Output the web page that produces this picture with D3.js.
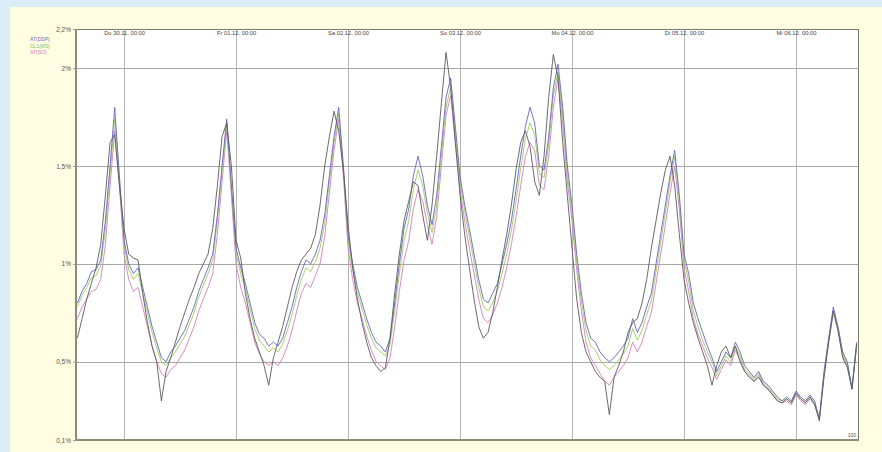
<!DOCTYPE html>
<html>
<head>
<meta charset="utf-8">
<script src="https://cdn.jsdelivr.net/npm/d3@7"></script>
<style>
  html, body { margin: 0; padding: 0; background: #dcedfa; }
  svg { display: block; font-family: "Liberation Sans", Arial, sans-serif; }
</style>
</head>
<body>
<svg id="chart"></svg>
<script>
// hourly values in %, first point = 29.11. 14:00
const firstHour = new Date(2006, 10, 29, 14);

const blueValues = [
  0.80, 0.86, 0.90, 0.96, 0.97, 1.02, 1.22, 1.50, 1.80, 1.45, 1.12, 1.00,
  0.95, 0.98, 0.88, 0.78, 0.68, 0.60, 0.52, 0.50, 0.55, 0.58, 0.62, 0.66,
  0.72, 0.78, 0.86, 0.92, 0.98, 1.05, 1.25, 1.50, 1.74, 1.40, 1.08, 0.98,
  0.90, 0.80, 0.70, 0.64, 0.62, 0.58, 0.60, 0.58, 0.62, 0.70, 0.78, 0.88,
  0.96, 1.02, 1.00, 1.05, 1.12, 1.25, 1.45, 1.65, 1.80, 1.50, 1.15, 1.00,
  0.88, 0.80, 0.72, 0.65, 0.60, 0.58, 0.55, 0.62, 0.80, 1.00, 1.18, 1.28,
  1.45, 1.55, 1.45, 1.30, 1.20, 1.35, 1.60, 1.85, 1.95, 1.70, 1.45, 1.30,
  1.18, 1.05, 0.92, 0.82, 0.80, 0.85, 0.90, 1.00, 1.10, 1.22, 1.38, 1.55,
  1.70, 1.80, 1.72, 1.50, 1.48, 1.65, 1.90, 2.02, 1.80, 1.50, 1.30, 1.05,
  0.85, 0.70, 0.62, 0.60, 0.55, 0.52, 0.50, 0.52, 0.55, 0.58, 0.62, 0.72,
  0.65, 0.70, 0.78, 0.85, 1.00, 1.15, 1.30, 1.45, 1.58, 1.35, 1.05, 0.95,
  0.80, 0.72, 0.65, 0.58, 0.52, 0.45, 0.50, 0.55, 0.52, 0.60, 0.55, 0.48,
  0.45, 0.42, 0.45, 0.40, 0.38, 0.35, 0.32, 0.30, 0.32, 0.30, 0.35, 0.32,
  0.30, 0.33, 0.30, 0.20, 0.45, 0.62, 0.78, 0.68, 0.55, 0.50, 0.36, 0.60
];

const greenValues = [
  0.78, 0.84, 0.88, 0.93, 0.94, 0.99, 1.18, 1.46, 1.74, 1.43, 1.10, 0.97,
  0.92, 0.95, 0.85, 0.75, 0.65, 0.57, 0.50, 0.48, 0.52, 0.55, 0.59, 0.63,
  0.69, 0.75, 0.83, 0.89, 0.95, 1.02, 1.22, 1.47, 1.72, 1.38, 1.05, 0.95,
  0.87, 0.77, 0.67, 0.61, 0.58, 0.55, 0.57, 0.55, 0.59, 0.66, 0.74, 0.84,
  0.92, 0.98, 0.96, 1.01, 1.08, 1.21, 1.42, 1.62, 1.77, 1.48, 1.12, 0.97,
  0.85, 0.77, 0.69, 0.62, 0.57, 0.55, 0.53, 0.59, 0.76, 0.95, 1.12, 1.22,
  1.38, 1.48, 1.40, 1.26, 1.16, 1.30, 1.55, 1.80, 1.90, 1.66, 1.42, 1.27,
  1.14, 1.01, 0.88, 0.78, 0.76, 0.80, 0.86, 0.95, 1.05, 1.17, 1.32, 1.49,
  1.64, 1.72, 1.66, 1.46, 1.44, 1.61, 1.86, 1.98, 1.76, 1.46, 1.26, 1.01,
  0.81, 0.66, 0.58, 0.56, 0.51, 0.48, 0.46, 0.48, 0.51, 0.54, 0.58, 0.67,
  0.61, 0.66, 0.74, 0.81, 0.96, 1.11, 1.26, 1.42, 1.55, 1.32, 1.02, 0.91,
  0.76, 0.68, 0.61, 0.55, 0.50, 0.43, 0.48, 0.53, 0.50, 0.58, 0.53, 0.46,
  0.44, 0.41, 0.44, 0.39, 0.37, 0.34, 0.31, 0.30, 0.31, 0.29, 0.34, 0.31,
  0.29, 0.32, 0.29, 0.22, 0.44, 0.61, 0.76, 0.67, 0.54, 0.49, 0.37, 0.59
];

const pinkValues = [
  0.72, 0.78, 0.82, 0.86, 0.87, 0.92, 1.10, 1.40, 1.68, 1.40, 1.05, 0.92,
  0.86, 0.88, 0.78, 0.68, 0.58, 0.50, 0.44, 0.42, 0.46, 0.48, 0.52, 0.56,
  0.62, 0.68, 0.76, 0.82, 0.88, 0.95, 1.15, 1.42, 1.68, 1.35, 1.00, 0.88,
  0.80, 0.70, 0.60, 0.54, 0.50, 0.48, 0.50, 0.48, 0.52, 0.58, 0.66, 0.76,
  0.85, 0.90, 0.88, 0.94, 1.00, 1.14, 1.36, 1.58, 1.74, 1.45, 1.08, 0.92,
  0.80, 0.72, 0.63, 0.56, 0.50, 0.48, 0.46, 0.52, 0.68, 0.86, 1.02, 1.12,
  1.28, 1.38, 1.32, 1.20, 1.10, 1.24, 1.50, 1.76, 1.86, 1.62, 1.38, 1.22,
  1.08, 0.95, 0.82, 0.72, 0.70, 0.74, 0.80, 0.88, 0.98, 1.10, 1.24, 1.40,
  1.55, 1.62, 1.58, 1.40, 1.38, 1.55, 1.80, 1.95, 1.72, 1.42, 1.22, 0.97,
  0.76, 0.60, 0.52, 0.48, 0.44, 0.40, 0.38, 0.42, 0.45, 0.48, 0.52, 0.60,
  0.55, 0.60, 0.68, 0.75, 0.90, 1.05, 1.20, 1.36, 1.50, 1.28, 0.98, 0.86,
  0.72, 0.64, 0.58, 0.52, 0.47, 0.41, 0.46, 0.51, 0.48, 0.56, 0.51, 0.45,
  0.43, 0.40, 0.43, 0.38, 0.36, 0.33, 0.30, 0.29, 0.30, 0.28, 0.33, 0.30,
  0.28, 0.31, 0.28, 0.21, 0.43, 0.60, 0.75, 0.66, 0.53, 0.48, 0.36, 0.58
];

const grayValues = [
  0.62, 0.72, 0.82, 0.90, 0.98, 1.10, 1.35, 1.62, 1.66, 1.40, 1.18, 1.05,
  1.03, 1.02, 0.85, 0.70, 0.58, 0.50, 0.30, 0.45, 0.52, 0.60, 0.68, 0.75,
  0.82, 0.88, 0.95, 1.00, 1.05, 1.18, 1.40, 1.65, 1.72, 1.50, 1.12, 1.03,
  0.85, 0.72, 0.62, 0.55, 0.48, 0.38, 0.52, 0.60, 0.68, 0.78, 0.88, 0.96,
  1.02, 1.05, 1.08, 1.15, 1.30, 1.50, 1.65, 1.78, 1.68, 1.48, 1.20, 0.98,
  0.82, 0.70, 0.60, 0.52, 0.48, 0.45, 0.47, 0.62, 0.85, 1.05, 1.22, 1.32,
  1.42, 1.40, 1.25, 1.12, 1.30, 1.55, 1.82, 2.08, 1.90, 1.62, 1.35, 1.15,
  0.98, 0.82, 0.68, 0.62, 0.65, 0.75, 0.88, 1.02, 1.15, 1.30, 1.48, 1.62,
  1.68, 1.60, 1.42, 1.35, 1.55, 1.85, 2.07, 1.95, 1.62, 1.35, 1.08, 0.82,
  0.65, 0.55, 0.50, 0.45, 0.42, 0.40, 0.23, 0.42, 0.48, 0.55, 0.65, 0.70,
  0.72, 0.80, 0.92, 1.08, 1.22, 1.36, 1.48, 1.55, 1.40, 1.15, 0.92, 0.80,
  0.70, 0.62, 0.55, 0.48, 0.38, 0.48, 0.55, 0.58, 0.52, 0.58, 0.50, 0.45,
  0.42, 0.40, 0.42, 0.38, 0.36, 0.33, 0.30, 0.29, 0.31, 0.29, 0.34, 0.31,
  0.29, 0.32, 0.28, 0.20, 0.42, 0.60, 0.76, 0.66, 0.52, 0.47, 0.36, 0.59
];

const yTicks = [0.1, 0.5, 1, 1.5, 2, 2.2];
const yTickLabels = ["0,1%", "0,5%", "1%", "1,5%", "2%", "2,2%"];
const yGrid = [0.5, 1, 1.5, 2];

const dayTicks = [
  new Date(2006, 10, 30), new Date(2006, 11, 1), new Date(2006, 11, 2),
  new Date(2006, 11, 3), new Date(2006, 11, 4), new Date(2006, 11, 5),
  new Date(2006, 11, 6)
];
const dayLabels = [
  "Do 30.11. 00:00", "Fr 01.12. 00:00", "Sa 02.12. 00:00", "So 03.12. 00:00",
  "Mo 04.12. 00:00", "Di 05.12. 00:00", "Mi 06.12. 00:00"
];

const legendNames = ["AT(DSP)", "CL1(MS)", "AT(SO)"];

const width = 882, height = 452;
const plot = {left: 76, top: 29, right: 859, bottom: 440};

const svg = d3.select("#chart")
    .attr("width", width)
    .attr("height", height);

// cream panel
svg.append("rect")
    .attr("x", 10).attr("y", 7)
    .attr("width", width - 10).attr("height", height - 7)
    .attr("fill", "#fffde2");

svg.append("rect")
    .attr("x", plot.left).attr("y", plot.top)
    .attr("width", plot.right - plot.left).attr("height", plot.bottom - plot.top)
    .attr("fill", "#ffffff");

const x = d3.scaleTime()
    .domain([new Date(2006, 10, 29, 13, 42), new Date(2006, 11, 6, 13, 30)])
    .range([plot.left, plot.right]);

const y = d3.scaleLinear()
    .domain([0.1, 2.2])
    .range([plot.bottom, plot.top]);

const hourTime = i => d3.timeHour.offset(firstHour, i);

// grid
svg.append("g")
    .selectAll("line")
    .data(dayTicks)
    .join("line")
    .attr("x1", d => Math.round(x(d)) + 0.5)
    .attr("x2", d => Math.round(x(d)) + 0.5)
    .attr("y1", plot.top)
    .attr("y2", plot.bottom)
    .attr("stroke", "#b4b4b4");

svg.append("g")
    .selectAll("line")
    .data(yGrid)
    .join("line")
    .attr("x1", plot.left)
    .attr("x2", plot.right)
    .attr("y1", d => Math.round(y(d)) + 0.5)
    .attr("y2", d => Math.round(y(d)) + 0.5)
    .attr("stroke", "#a8a8a8");

// lines
const line = d3.line()
    .x((d, i) => x(hourTime(i)))
    .y(d => y(d));

const series = [
    {values: pinkValues, color: "#d77fc0"},
    {values: greenValues, color: "#9ccd5a"},
    {values: blueValues, color: "#6464c8"},
    {values: grayValues, color: "#5a5a5a"}
];

svg.append("g")
    .selectAll("path")
    .data(series)
    .join("path")
    .attr("d", d => line(d.values))
    .attr("fill", "none")
    .attr("stroke", d => d.color)
    .attr("stroke-width", 0.9)
    .attr("stroke-linejoin", "round");

// frame
svg.append("rect")
    .attr("x", plot.left + 0.5).attr("y", plot.top + 0.5)
    .attr("width", plot.right - plot.left - 1).attr("height", plot.bottom - plot.top - 1)
    .attr("fill", "none")
    .attr("stroke", "#7a7a6a");
svg.append("line")
    .attr("x1", plot.left).attr("x2", plot.left)
    .attr("y1", plot.top).attr("y2", plot.bottom + 1)
    .attr("stroke", "#8c8c78").attr("stroke-width", 2);
svg.append("line")
    .attr("x1", plot.left).attr("x2", plot.right)
    .attr("y1", plot.bottom).attr("y2", plot.bottom)
    .attr("stroke", "#8c8c78").attr("stroke-width", 2);

// y axis
const yAxis = d3.axisLeft(y)
    .tickValues(yTicks)
    .tickFormat((d, i) => yTickLabels[i])
    .tickSize(3)
    .tickPadding(2);
const yg = svg.append("g")
    .attr("transform", `translate(${plot.left},0)`)
    .call(yAxis);
yg.select(".domain").remove();
yg.selectAll("line").attr("stroke", "#999");
yg.selectAll("text")
    .attr("font-size", 6.5)
    .attr("font-family", "Liberation Sans, Arial, sans-serif")
    .attr("fill", "#555");

// day labels along the top
const xAxis = d3.axisBottom(x)
    .tickValues(dayTicks)
    .tickFormat((d, i) => dayLabels[i])
    .tickSize(0)
    .tickPadding(2);
const xg = svg.append("g")
    .attr("transform", `translate(0,${plot.top})`)
    .call(xAxis);
xg.select(".domain").remove();
xg.selectAll("text")
    .attr("font-size", 5.8)
    .attr("font-family", "Liberation Sans, Arial, sans-serif")
    .attr("fill", "#444");

// legend
const legendColors = ["#6c6cc4", "#8cc04c", "#d27cba"];
svg.append("g")
    .selectAll("text")
    .data(legendNames)
    .join("text")
    .attr("x", 30)
    .attr("y", (d, i) => 41 + i * 6.5)
    .attr("font-size", 5)
    .attr("fill", (d, i) => legendColors[i])
    .text(d => d);

svg.append("text")
    .attr("x", plot.right - 3)
    .attr("y", plot.bottom - 3)
    .attr("text-anchor", "end")
    .attr("font-size", 5)
    .attr("fill", "#555")
    .text("100");
</script>
</body>
</html>
